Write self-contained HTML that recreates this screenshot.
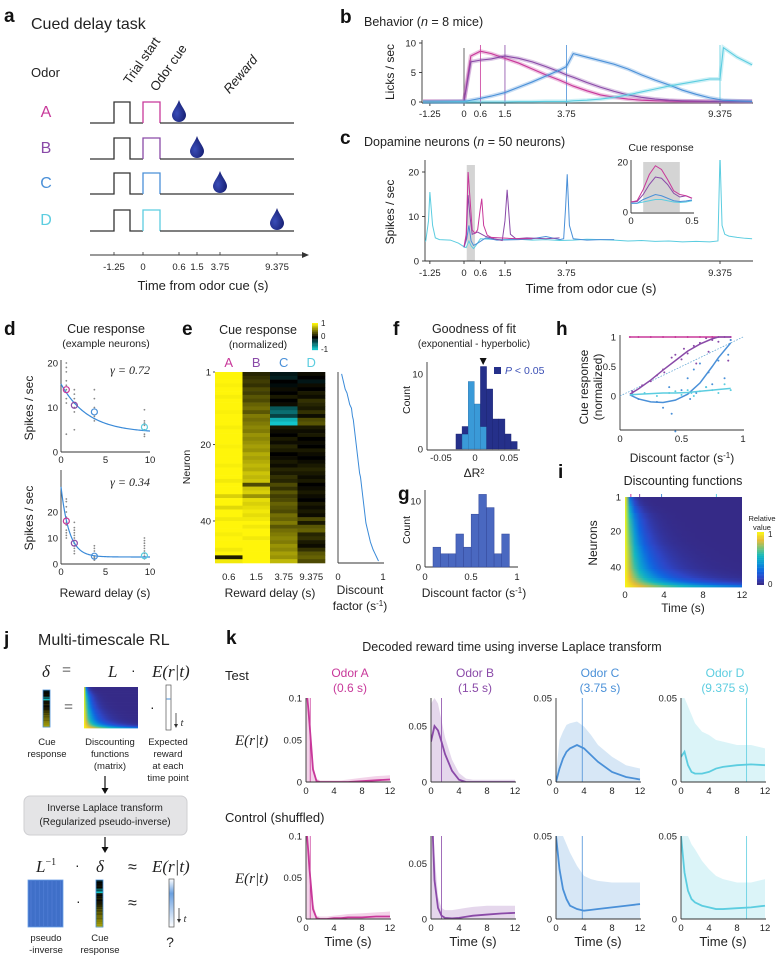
<!DOCTYPE html>
<html><head><meta charset="utf-8"><style>
html,body{margin:0;padding:0;background:#fff;}
svg{display:block;font-family:"Liberation Sans",sans-serif;}
.t{font-size:9.5px;fill:#222;}
.lab{font-size:12px;fill:#222;}
.ttl{font-size:12.5px;fill:#222;}
.pl{font-size:19px;font-weight:bold;fill:#111;}
.ax{stroke:#333;stroke-width:0.9;fill:none;}
.m{font-family:"Liberation Serif",serif;font-style:italic;fill:#222;}
</style></head><body>
<svg id="fig" width="784" height="960" viewBox="0 0 784 960" xmlns="http://www.w3.org/2000/svg">
<defs>
<radialGradient id="dropg" cx="0.35" cy="0.6" r="0.7"><stop offset="0" stop-color="#3a4db8"/><stop offset="1" stop-color="#141c6e"/></radialGradient>
<clipPath id="clipB"><rect x="422" y="40" width="331" height="64"/></clipPath>
<clipPath id="clipC"><rect x="425" y="160" width="328" height="102"/></clipPath>
</defs>

<!-- Panel a -->
<g>
<text class="pl" x="4" y="22">a</text>
<text x="31" y="29" style="font-size:16px" fill="#222">Cued delay task</text>
<text x="31" y="77" class="lab" style="font-size:13px">Odor</text>
<text x="133" y="95" class="lab" transform="rotate(-55 122 93)" style="font-size:13px">Trial start</text>
<text x="155" y="95" class="lab" transform="rotate(-55 153 92)" style="font-size:13px">Odor cue</text>
<text x="228" y="95" class="lab" transform="rotate(-50 228 93)" style="font-size:13px;font-style:italic">Reward</text>
<g id="taskRows"></g>
<line x1="90" y1="255" x2="302" y2="255" stroke="#333" stroke-width="1"/>
<polygon points="302,252 309,255 302,258" fill="#333"/>
<g id="taskTicks"></g>
<text x="203" y="290" text-anchor="middle" class="lab" style="font-size:13px">Time from odor cue (s)</text>
</g>

<!-- Panel b -->
<g>
<text class="pl" x="340" y="23">b</text>
<text x="364" y="26" class="ttl">Behavior (<tspan font-style="italic">n</tspan> = 8 mice)</text>
<text x="0" y="0" class="lab" transform="translate(394 72) rotate(-90)" text-anchor="middle">Licks / sec</text>
<g id="bPlot"></g>
</g>

<!-- Panel c -->
<g>
<text class="pl" x="340" y="144">c</text>
<text x="364" y="146" class="ttl">Dopamine neurons (<tspan font-style="italic">n</tspan> = 50 neurons)</text>
<text x="0" y="0" class="lab" transform="translate(394 212) rotate(-90)" text-anchor="middle">Spikes / sec</text>
<text x="591" y="293" text-anchor="middle" class="lab" style="font-size:13px">Time from odor cue (s)</text>
<text x="661" y="151" text-anchor="middle" class="t" style="font-size:10.5px">Cue response</text>
<g id="cPlot"></g>
</g>

<!-- Panel d -->
<g>
<text class="pl" x="4" y="335">d</text>
<text x="106" y="333" text-anchor="middle" class="ttl">Cue response</text>
<text x="106" y="347" text-anchor="middle" class="t" style="font-size:10.5px">(example neurons)</text>
<text transform="translate(33 408) rotate(-90)" text-anchor="middle" class="lab">Spikes / sec</text>
<text transform="translate(33 518) rotate(-90)" text-anchor="middle" class="lab">Spikes / sec</text>
<text x="105" y="597" text-anchor="middle" class="lab">Reward delay (s)</text>
<g id="dPlot"></g>
</g>

<!-- Panel e -->
<g>
<text class="pl" x="182" y="335">e</text>
<text x="258" y="334" text-anchor="middle" class="ttl">Cue response</text>
<text x="258" y="348" text-anchor="middle" class="t" style="font-size:10.5px">(normalized)</text>
<text transform="translate(190 467) rotate(-90)" text-anchor="middle" class="t" style="font-size:10.5px">Neuron</text>
<text x="270" y="597" text-anchor="middle" class="lab">Reward delay (s)</text>
<text x="360" y="594" text-anchor="middle" class="lab">Discount</text>
<text x="360" y="610" text-anchor="middle" class="lab">factor (s<tspan dy="-4" font-size="8">-1</tspan><tspan dy="4">)</tspan></text>
<g id="ePlot"></g>
</g>

<!-- Panel f -->
<g>
<text class="pl" x="393" y="335">f</text>
<text x="474" y="333" text-anchor="middle" class="ttl">Goodness of fit</text>
<text x="474" y="347" text-anchor="middle" class="t" style="font-size:10px">(exponential - hyperbolic)</text>
<text transform="translate(410 400) rotate(-90)" text-anchor="middle" class="t" style="font-size:10.5px">Count</text>
<text x="474" y="477" text-anchor="middle" class="lab">ΔR²</text>
<rect x="494" y="367" width="7" height="7" fill="#25308a"/>
<text x="505" y="374" class="t" style="font-size:10.5px;fill:#3b4fb5"><tspan font-style="italic">P</tspan> &lt; 0.05</text>
<g id="fPlot"></g>
</g>

<!-- Panel g -->
<g>
<text class="pl" x="398" y="500">g</text>
<text transform="translate(410 530) rotate(-90)" text-anchor="middle" class="t" style="font-size:10.5px">Count</text>
<text x="474" y="597" text-anchor="middle" class="lab">Discount factor (s<tspan dy="-4" font-size="8">-1</tspan><tspan dy="4">)</tspan></text>
<g id="gPlot"></g>
</g>

<!-- Panel h -->
<g>
<text class="pl" x="556" y="335">h</text>
<text transform="translate(588 387) rotate(-90)" text-anchor="middle" class="lab">Cue response</text>
<text transform="translate(602 387) rotate(-90)" text-anchor="middle" class="lab">(normalized)</text>
<text x="682" y="462" text-anchor="middle" class="lab">Discount factor (s<tspan dy="-4" font-size="8">-1</tspan><tspan dy="4">)</tspan></text>
<g id="hPlot"></g>
</g>

<!-- Panel i -->
<g>
<text class="pl" x="558" y="478">i</text>
<text x="683" y="485" text-anchor="middle" class="ttl">Discounting functions</text>
<text transform="translate(597 543) rotate(-90)" text-anchor="middle" class="lab">Neurons</text>
<text x="683" y="612" text-anchor="middle" class="lab">Time (s)</text>
<text x="762" y="521" text-anchor="middle" style="font-size:7.5px" fill="#222">Relative</text>
<text x="762" y="530" text-anchor="middle" style="font-size:7.5px" fill="#222">value</text>
<g id="iPlot"></g>
</g>

<!-- Panel j -->
<g>
<text class="pl" x="4" y="645">j</text>
<text x="38" y="645" style="font-size:16px" fill="#222">Multi-timescale RL</text>
<text x="42" y="677" class="m" style="font-size:17px">δ</text>
<text x="62" y="675" class="m" style="font-size:16px;font-style:normal">=</text>
<text x="108" y="677" class="m" style="font-size:17px">L</text>
<text x="131" y="675" style="font-size:14px" fill="#222">·</text>
<text x="152" y="677" class="m" style="font-size:17px">E(r|t)</text>
<g id="jPics"></g>
<text x="64" y="712" class="m" style="font-size:16px;font-style:normal">=</text>
<text x="150" y="712" style="font-size:14px" fill="#222">·</text>
<g class="t" style="font-size:9.5px" text-anchor="middle">
<text x="47" y="745">Cue</text>
<text x="47" y="757">response</text>
<text x="110" y="745">Discounting</text>
<text x="110" y="757">functions</text>
<text x="110" y="769">(matrix)</text>
<text x="168" y="745">Expected</text>
<text x="168" y="757">reward</text>
<text x="168" y="769">at each</text>
<text x="168" y="781">time point</text>
</g>
<line x1="105" y1="776" x2="105" y2="790" stroke="#111" stroke-width="1.2"/>
<polygon points="101.5,788 108.5,788 105,794" fill="#111"/>
<rect x="24" y="796" width="163" height="39" rx="6" fill="#e4e4e6" stroke="#cfcfd2"/>
<text x="105" y="811" text-anchor="middle" class="t" style="font-size:10px">Inverse Laplace transform</text>
<text x="105" y="825" text-anchor="middle" class="t" style="font-size:10px">(Regularized pseudo-inverse)</text>
<line x1="105" y1="837" x2="105" y2="849" stroke="#111" stroke-width="1.2"/>
<polygon points="101.5,847 108.5,847 105,853" fill="#111"/>
<text x="36" y="872" class="m" style="font-size:17px">L<tspan dy="-7" font-size="10" font-style="normal">−1</tspan></text>
<text x="75" y="870" style="font-size:14px" fill="#222">·</text>
<text x="96" y="872" class="m" style="font-size:17px">δ</text>
<text x="128" y="872" style="font-size:16px" fill="#222">≈</text>
<text x="152" y="872" class="m" style="font-size:17px">E(r|t)</text>
<text x="76" y="906" style="font-size:14px" fill="#222">·</text>
<text x="128" y="908" style="font-size:16px" fill="#222">≈</text>
<g class="t" style="font-size:9.5px" text-anchor="middle">
<text x="46" y="941">pseudo</text>
<text x="46" y="953">-inverse</text>
<text x="100" y="941">Cue</text>
<text x="100" y="953">response</text>
</g>
<text x="170" y="947" text-anchor="middle" style="font-size:14px" fill="#222">?</text>
</g>

<!-- Panel k -->
<g>
<text class="pl" x="226" y="644">k</text>
<text x="512" y="651" text-anchor="middle" class="ttl">Decoded reward time using inverse Laplace transform</text>
<text x="225" y="680" class="lab" style="font-size:13px">Test</text>
<text x="225" y="822" class="lab" style="font-size:13px">Control (shuffled)</text>
<text x="235" y="745" class="m" style="font-size:15px">E(r|t)</text>
<text x="235" y="883" class="m" style="font-size:15px">E(r|t)</text>
<g id="kPlot"></g>
</g>
</svg>

<script>
// ---------- data ----------
var odorNames = ["A","B","C","D"];
var rewardTimes = [0.6, 1.5, 3.75, 9.375];
var odorColors = ["#c8389a","#8a4aa8","#4a90d8","#5ccde0"];

// panel b: licks/sec
var behTimes = [-1.5,-1.25,0,0.25,0.6,1,1.5,2,2.5,3,3.5,3.75,4,4.5,5,5.5,6,6.5,7,7.5,8,8.5,9,9.375,9.5,10,10.55];
var lickA = [0.1,0.1,0.1,7.8,8.6,8.2,7.4,6.6,5.6,4.6,3.7,3.2,2.7,1.9,1.2,0.8,0.5,0.3,0.2,0.15,0.1,0.1,0.1,0.1,0.1,0.1,0.1];
var lickB = [0.1,0.1,0.1,6.8,7.1,7.3,7.8,7.4,6.8,6.0,5.1,4.6,4.2,3.3,2.5,1.8,1.2,0.8,0.5,0.3,0.2,0.15,0.1,0.1,0.1,0.1,0.1];
var lickC = [0,0,0.1,0.3,0.6,1.0,1.6,2.5,3.4,4.4,5.4,6.0,8.2,7.6,7.0,6.4,5.6,4.6,3.7,2.9,2.0,1.3,0.7,0.4,0.3,0.2,0.1];
var lickD = [0,0,0,0,0,0,0,0.05,0.05,0.1,0.1,0.1,0.2,0.3,0.5,0.8,1.2,1.7,2.2,2.7,3.1,3.5,3.9,3.9,9.2,7.6,6.3];
var lickData = [lickA, lickB, lickC, lickD];
var bTicksY = [0,5,10];
var tTickVals = [-1.25,0,0.6,1.5,3.75,9.375];
var tTickLabels = ["-1.25","0","0.6","1.5","3.75","9.375"];

// panel c: spikes/sec
var spkTimesD = [-1.6,-1.4,-1.3,-1.25,-1.15,-1.05,-0.9,-0.5,-0.2,0,0.08,0.18,0.26,0.35,0.45,0.6,1,1.5,2,2.5,3,3.5,4,4.5,5,5.5,6,6.5,7,7.5,8,8.5,9,9.3,9.375,9.45,9.55,9.7,10,10.3,10.55];
var spkValsD = [4.3,4.5,9,15.5,8,5.2,4.8,4.7,4.0,3.2,3.0,4.5,3.4,2.8,3.6,5.0,4.9,4.8,4.9,4.7,4.8,4.6,4.7,4.9,4.8,4.7,4.5,4.6,4.4,4.5,4.3,4.4,4.3,4.5,24,8,6,5.6,5.3,5.1,5.0];
var spkTimesA = [0,0.08,0.15,0.22,0.3,0.4,0.5,0.58,0.65,0.72,0.85,1,1.3,1.6,2,2.5];
var spkValsA = [3.2,6,20,14,7,6.2,7,11,14,8,5.8,5.3,5.2,5.1,5,5];
var spkTimesB = [0,0.08,0.15,0.22,0.3,0.5,0.8,1.1,1.4,1.5,1.58,1.7,1.9,2.3,3,3.5];
var spkValsB = [3.2,5,14.8,10,6,6.5,5.5,5,4.6,9,16,6,5,5.2,5,5.2];
var spkTimesC = [0,0.1,0.18,0.26,0.35,0.5,0.8,1.2,2,2.5,3,3.5,3.65,3.72,3.78,3.86,4,4.5,5,5.5];
var spkValsC = [3,5,8,4.5,3.5,4,5.2,4.7,4.8,5,5.5,4.8,5,12,19.5,8,5,4.7,4.8,4.8];
var cTicksY = [0,10,20];
// inset
var insetTimes = [0,0.05,0.1,0.15,0.2,0.25,0.3,0.35,0.4,0.45,0.5];
var insetA = [4,4.5,9,15,18.5,17,13,8.5,7,6.5,5.5];
var insetB = [4,4.2,7,11,14,13.5,11,7.5,6,6.5,5.5];
var insetC = [3.5,3.5,5,6,7,6.5,5.5,4.5,4.2,4.4,4.8];
var insetD = [3.5,3.5,4,4.5,5,5,4.5,4,3.8,4,4.5];

// panel d
var dDelays = [0.6,1.5,3.75,9.375];
var dTopMeans = [14,10.5,9,5.6];
var dBotMeans = [16.5,8,3,3.2];
var dTopDots = [[20,19,18,16,15,14,12,11,4],[14,13,12,11,10,9,5],[14,12,10,8,7.5,7],[9.5,7,6.5,6,5,4,3.5]];
var dBotDots = [[25,24,22,20,18,16,15,13,12,11,10],[16,14,13,12,11,10,9,8,7,6,5,4],[7,6,5,3,2.5,2,1.5],[10,9,8,7,6,5,4,3,2]];
var dGammas = [0.72,0.34];
var dFitAmp = [11,27];
var dFitOffset = [4.3,2.7];

// panel e
var heatA = [1,1,1,0.98,1,1,0.97,1,1,1,0.98,1,1,1,0.97,1,1,1,1,0.98,1,1,1,1,0.97,1,1,1,0.95,1,1,1,0.85,1,1,0.88,1,1,0.95,1,1,1,0.97,1,1,1,0.95,1,0.12,0.95];
var heatB = [0.15,0.2,0.25,0.2,0.3,0.25,0.35,0.3,0.4,0.45,0.35,0.5,0.45,0.5,0.55,0.5,0.6,0.55,0.6,0.65,0.6,0.7,0.65,0.7,0.75,0.7,0.8,0.75,0.8,0.3,0.8,0.85,0.6,0.9,0.85,0.9,0.95,0.9,0.95,1,0.95,1,1,0.95,1,1,1,1,1,1];
var heatC = [-0.1,-0.15,0,-0.05,0.05,0,0.1,0,0.05,-0.4,-0.5,-0.3,-0.8,-0.9,0.1,0.05,0,0.1,0.05,0.15,0.1,0,0.05,0.1,0.05,0.15,0.1,0.2,0.15,0.3,0.2,0.35,0.25,0.3,0.4,0.35,0.3,0.45,0.4,0.5,0.35,0.45,0.5,0.55,0.5,0.6,0.55,0.65,0.6,0.75];
var heatD = [0.05,0,-0.1,0.05,0,0.1,0.05,0.2,0.15,0.1,0.2,0.05,0.3,0.35,0.1,0.05,0.1,0,0.05,0,0.1,0.05,0,0.05,0.1,0.15,0.1,0.05,0.1,0,0.05,0.1,0.05,0,0.1,0.05,0.1,0.05,0.3,0.1,0.35,0.4,0.15,0.2,0.1,0.05,0.2,0.35,0.4,0.3];
var heatCols = [heatA, heatB, heatC, heatD];
var discountFactors = [0.08,0.1,0.12,0.14,0.16,0.2,0.22,0.24,0.26,0.3,0.31,0.32,0.34,0.35,0.36,0.37,0.38,0.39,0.4,0.41,0.42,0.43,0.44,0.45,0.46,0.47,0.48,0.5,0.51,0.52,0.53,0.54,0.55,0.56,0.57,0.58,0.59,0.6,0.61,0.62,0.64,0.66,0.68,0.7,0.72,0.75,0.78,0.82,0.86,0.9];
var eDelayLabels = ["0.6","1.5","3.75","9.375"];

// panel f
var fBinStart = -0.028;
var fBinWidth = 0.009;
var fSigCounts = [2,1,0,0,8,8,4,4,2,1];
var fNonSigCounts = [0,2,9,6,3,0,0,0,0,0];
var fMedian = 0.012;

// panel g
var gBinStart = 0.087;
var gBinWidth = 0.083;
var gCounts = [3,2,2,5,3,8,11,9,2,5];

// panel h
var hFitX = [0.08,0.15,0.25,0.35,0.45,0.55,0.65,0.75,0.8,0.9];
var hFitA = [1,1,1,1,1,1,1,1,1,1];
var hFitB = [0.03,0.12,0.27,0.44,0.6,0.76,0.88,0.97,1,1];
var hFitC = [0.02,-0.05,-0.1,-0.11,-0.07,0.03,0.22,0.5,0.65,0.9];
var hFitD = [0.02,0.03,0.04,0.05,0.05,0.06,0.08,0.1,0.11,0.13];
var hPtsBx = [0.1,0.18,0.25,0.3,0.35,0.36,0.42,0.45,0.5,0.52,0.55,0.6,0.62,0.65,0.7,0.72,0.75,0.8,0.85,0.88,0.9];
var hPtsBy = [0.08,0.18,0.25,0.35,0.45,0.4,0.65,0.7,0.62,0.8,0.72,0.85,0.55,0.9,0.98,0.75,0.95,0.92,1,0.6,0.95];
var hPtsCx = [0.1,0.15,0.3,0.35,0.4,0.42,0.45,0.5,0.55,0.57,0.6,0.62,0.65,0.7,0.72,0.75,0.8,0.85,0.88,0.9];
var hPtsCy = [0.05,-0.05,-0.1,-0.2,0.15,-0.3,-0.6,0.1,0.3,-0.05,0.45,0.05,0.55,0.15,0.4,0.2,0.6,0.3,0.7,0.95];
var hPtsDx = [0.1,0.2,0.3,0.4,0.45,0.5,0.55,0.58,0.6,0.65,0.7,0.75,0.8,0.85,0.9];
var hPtsDy = [0.02,0.05,0.0,0.05,0.08,0.02,0.1,0.05,0.0,0.08,0.15,0.1,0.05,0.2,0.1];

// panel k (mean decoded curves)
var kTimes = [0,0.5,1,1.5,2,3,4,5,6,8,10,12];
var kTestA = [0.12,0.07,0.015,0.001,0,0,0,0,0,0.001,0.002,0.003];
var kTestB = [0.036,0.05,0.046,0.036,0.025,0.01,0.002,0,0,0,0,0];
var kTestC = [0,0.008,0.014,0.018,0.02,0.022,0.02,0.016,0.012,0.006,0.003,0.0015];
var kTestD = [0.015,0.018,0.01,0.006,0.005,0.005,0.006,0.008,0.009,0.01,0.0105,0.01];
var kCtrlA = [0.12,0.06,0.012,0.001,0,0,0.001,0.001,0.002,0.002,0.003,0.003];
var kCtrlB = [0.12,0.035,0.01,0.003,0.001,0.0005,0.001,0.002,0.003,0.004,0.005,0.0055];
var kCtrlC = [0.05,0.03,0.018,0.012,0.008,0.006,0.005,0.0055,0.006,0.007,0.008,0.009];
var kCtrlD = [0.05,0.028,0.017,0.012,0.01,0.008,0.007,0.006,0.006,0.0065,0.007,0.008];
var kTestHi = [[0.12,0.08,0.02,0.004,0.002,0.002,0.002,0.002,0.003,0.005,0.007,0.008],[0.07,0.075,0.07,0.055,0.04,0.02,0.008,0.003,0.002,0.002,0.002,0.002],[0.005,0.025,0.03,0.034,0.035,0.036,0.033,0.028,0.022,0.015,0.01,0.008],[0.05,0.05,0.045,0.04,0.035,0.03,0.028,0.025,0.024,0.022,0.022,0.02]];
var kCtrlHi = [[0.12,0.07,0.02,0.004,0.003,0.003,0.004,0.005,0.006,0.007,0.008,0.009],[0.12,0.06,0.02,0.01,0.008,0.008,0.009,0.01,0.011,0.012,0.012,0.012],[0.05,0.05,0.05,0.045,0.04,0.032,0.026,0.024,0.023,0.022,0.022,0.022],[0.05,0.05,0.05,0.045,0.042,0.035,0.03,0.026,0.024,0.022,0.022,0.024]];
var kYMax = [0.1,0.075,0.05,0.05];
var kYTickVals = [[0,0.05,0.1],[0,0.05],[0,0.05],[0,0.05]];
var kYTickLabels = [["0","0.05","0.1"],["0","0.05"],["0","0.05"],["0","0.05"]];
var kXTicks = [0,4,8,12];

// ---------- helpers ----------
var NS = "http://www.w3.org/2000/svg";
function mk(tag, attrs, parent){ var e=document.createElementNS(NS,tag); for(var k in attrs) e.setAttribute(k,attrs[k]); if(parent) parent.appendChild(e); return e; }
function txt(parent, x, y, s, anchor, cls, extra){ var e=mk("text",{x:x,y:y,"text-anchor":anchor||"middle","class":cls||"t"},parent); if(extra) e.setAttribute("style",extra); e.textContent=s; return e; }
function lin(d0,d1,r0,r1){ return function(v){ return r0+(v-d0)*(r1-r0)/(d1-d0); }; }
function pathD(xs, ys, fx, fy){ var d=""; for(var i=0;i<xs.length;i++){ d+=(i?"L":"M")+fx(xs[i]).toFixed(2)+","+fy(ys[i]).toFixed(2); } return d; }
function hex(c){ return "#"+c.map(function(v){var h=Math.round(Math.max(0,Math.min(255,v))).toString(16);return h.length<2?"0"+h:h;}).join(""); }
function interpColor(stops, v){ v=Math.max(0,Math.min(1,v)); for(var i=1;i<stops.length;i++){ if(v<=stops[i][0]){ var a=stops[i-1], b=stops[i], f=(v-a[0])/(b[0]-a[0]); return hex([0,1,2].map(function(k){return a[1][k]+(b[1][k]-a[1][k])*f;})); } } return hex(stops[stops.length-1][1]); }
var parula = [[0,[53,42,135]],[0.12,[45,70,200]],[0.25,[15,100,225]],[0.4,[10,150,215]],[0.55,[20,185,190]],[0.7,[120,195,120]],[0.85,[230,185,55]],[1,[249,245,20]]];
function yelcyan(v){ if(v>=0) return hex([255*v, 245*v, 10*v]); var a=-v; return hex([20*a, 220*a, 225*a]); }

// ---------- panel a ----------
(function(){
  var g=document.getElementById("taskRows");
  var xT = function(t){ var map={"-1.25":114,"0":143,"0.6":179,"1.5":197,"3.75":220,"9.375":277}; return map[String(t)]; };
  var baseY=[123,159,194,231];
  for(var i=0;i<4;i++){
    var row=mk("g",{},g);
    
    
    var lab=txt(row,46,baseY[i]-6,odorNames[i],"middle","lab","font-size:16px;fill:"+odorColors[i]);
    
    
    var y=baseY[i], top=y-21;
    var d="M90,"+y+"L114,"+y+"L114,"+top+"L130,"+top+"L130,"+y+"L143,"+y;
    var p1=mk("path",{d:d,stroke:"#333","stroke-width":1.3,fill:"none"},row);
    
    
    var p2=mk("path",{d:"M143,"+y+"L143,"+top+"L160,"+top+"L160,"+y,stroke:odorColors[i],"stroke-width":1.3,fill:"none"},row);
    
    
    mk("line",{x1:160,y1:y,x2:294,y2:y,stroke:"#333","stroke-width":1.3},row);
    var cx=xT(rewardTimes[i]), cy=y-12;
    var dp=mk("path",{d:"M"+cx+","+(cy-11)+"C"+(cx+2)+","+(cy-5)+" "+(cx+7)+","+cy+" "+(cx+7)+","+(cy+4)+"A7,7 0 0 1 "+(cx-7)+","+(cy+4)+"C"+(cx-7)+","+cy+" "+(cx-2)+","+(cy-5)+" "+cx+","+(cy-11)+"Z",fill:"url(#dropg)"},row);
    
    
  }
  var tg=document.getElementById("taskTicks");
  for(var j=0;j<tTickVals.length;j++){
    var x=xT(tTickVals[j]);
    mk("line",{x1:x,y1:252,x2:x,y2:255,stroke:"#333","stroke-width":0.8},tg);
    var tl=txt(tg,x,270,tTickLabels[j],"middle","t");
    
    
  }
})();

// ---------- panel b ----------
var xTime = lin(0,9.375,464,720);
(function(){
  var g=document.getElementById("bPlot"), yB=lin(0,10,102,43);
  mk("line",{x1:422,y1:40,x2:422,y2:103,"class":"ax"},g);
  mk("line",{x1:422,y1:103,x2:753,y2:103,"class":"ax"},g);
  bTicksY.forEach(function(v){ mk("line",{x1:419,y1:yB(v),x2:422,y2:yB(v),"class":"ax"},g); var t=txt(g,416,yB(v)+3.5,String(v),"end");   });
  tTickVals.forEach(function(v,i){ mk("line",{x1:xTime(v),y1:103,x2:xTime(v),y2:106,"class":"ax"},g); var t=txt(g,xTime(v),117,tTickLabels[i]);   });
  mk("line",{x1:xTime(0),y1:48,x2:xTime(0),y2:103,stroke:"#444","stroke-width":0.8},g);
  rewardTimes.forEach(function(r,i){ var l=mk("line",{x1:xTime(r),y1:45,x2:xTime(r),y2:103,stroke:odorColors[i],"stroke-width":0.8},g);   });
  var cg=mk("g",{"clip-path":"url(#clipB)"},g);
  lickData.forEach(function(arr,i){
    var d=pathD(behTimes,arr,xTime,yB);
    mk("path",{d:d,stroke:odorColors[i],"stroke-width":4,"stroke-opacity":0.3,fill:"none"},cg);
    var p=mk("path",{d:d,stroke:odorColors[i],"stroke-width":1.1,fill:"none"},cg);
    
    
  });
})();

// ---------- panel c ----------
(function(){
  var g=document.getElementById("cPlot"), yC=lin(0,20,261,172);
  mk("rect",{x:xTime(0.1),y:165,width:xTime(0.4)-xTime(0.1),height:96,fill:"#d4d4d4"},g);
  mk("line",{x1:425,y1:160,x2:425,y2:261,"class":"ax"},g);
  mk("line",{x1:425,y1:261,x2:753,y2:261,"class":"ax"},g);
  cTicksY.forEach(function(v){ mk("line",{x1:422,y1:yC(v),x2:425,y2:yC(v),"class":"ax"},g); var t=txt(g,419,yC(v)+3.5,String(v),"end");   });
  tTickVals.forEach(function(v,i){ mk("line",{x1:xTime(v),y1:261,x2:xTime(v),y2:264,"class":"ax"},g); var t=txt(g,xTime(v),276,tTickLabels[i]);   });
  var cg=mk("g",{"clip-path":"url(#clipC)"},g);
  var series=[[spkTimesD,spkValsD,3],[spkTimesC,spkValsC,2],[spkTimesB,spkValsB,1],[spkTimesA,spkValsA,0]];
  series.forEach(function(s){
    var p=mk("path",{d:pathD(s[0],s[1],xTime,yC),stroke:odorColors[s[2]],"stroke-width":1,fill:"none"},cg);
    
    
  });
  // inset
  var xi=lin(0,0.5,631,692), yi=lin(0,20,212,162);
  mk("rect",{x:xi(0.1),y:162,width:xi(0.4)-xi(0.1),height:50,fill:"#d4d4d4"},g);
  mk("line",{x1:631,y1:160,x2:631,y2:213,"class":"ax"},g);
  mk("line",{x1:631,y1:213,x2:694,y2:213,"class":"ax"},g);
  [0,20].forEach(function(v){ var t=txt(g,628,yi(v)+3.5,String(v),"end");   });
  [0,0.5].forEach(function(v){ var t=txt(g,xi(v),224,String(v));   });
  [insetD,insetC,insetB,insetA].forEach(function(arr,k){
    var idx=3-k;
    var p=mk("path",{d:pathD(insetTimes,arr,xi,yi),stroke:odorColors[idx],"stroke-width":1,fill:"none"},g);
    
    
  });
})();

// ---------- panel d ----------
(function(){
  var g=document.getElementById("dPlot");
  var xd=lin(0,10,61,150);
  var cfgs=[{y0:452,y20:363,top:360,means:dTopMeans,dots:dTopDots,gl:"γ = 0.72",gy:374},{y0:564,y20:512,top:470,means:dBotMeans,dots:dBotDots,gl:"γ = 0.34",gy:486}];
  cfgs.forEach(function(c,k){
    var yd=lin(0,20,c.y0,c.y20);
    mk("line",{x1:61,y1:c.top,x2:61,y2:c.y0,"class":"ax"},g);
    mk("line",{x1:61,y1:c.y0,x2:150,y2:c.y0,"class":"ax"},g);
    [0,10,20].forEach(function(v){ if(yd(v)<c.top-2) return; var t=txt(g,58,yd(v)+3.5,String(v),"end");   });
    [0,5,10].forEach(function(v){ var t=txt(g,xd(v),c.y0+11,String(v));   });
    var gt=txt(g,150,c.gy,c.gl,"end","m","font-size:12px");  
    c.dots.forEach(function(list,i){ list.forEach(function(v){ var dd=mk("circle",{cx:xd(dDelays[i]),cy:yd(v),r:0.9,fill:"#888"},g);   }); });
    var ts=[],vs=[]; for(var t=0;t<=10;t+=0.1){ ts.push(t); vs.push(dFitOffset[k]+dFitAmp[k]*Math.pow(dGammas[k],t)); }
    var fp=mk("path",{d:pathD(ts,vs,xd,yd),stroke:"#3a8ad8","stroke-width":1.2,fill:"none"},g);
    
    
    c.means.forEach(function(v,i){ var cc=mk("circle",{cx:xd(dDelays[i]),cy:yd(v),r:3,fill:"none",stroke:odorColors[i],"stroke-width":1.2},g);   });
  });
})();

// ---------- panel e ----------
(function(){
  var g=document.getElementById("ePlot");
  var x0=215,cw=27.5,y0=372,rh=191/50;
  heatCols.forEach(function(col,j){
    var lb=txt(g,x0+cw*(j+0.5),367,odorNames[j],"middle","lab","font-size:13px;fill:"+odorColors[j]);
     
    col.forEach(function(v,i){
      var r=mk("rect",{x:x0+cw*j,y:y0+rh*i,width:cw+0.3,height:rh+0.3,fill:yelcyan(v)},g);
      
      
    });
    var xl=txt(g,x0+cw*(j+0.5),580,eDelayLabels[j]);  
  });
  [[1,0],[20,19],[40,39]].forEach(function(p){ var t=txt(g,211,y0+rh*p[1]+3.5,String(p[0]),"end");   mk("line",{x1:213,y1:y0+rh*p[1],x2:215,y2:y0+rh*p[1],"class":"ax"},g); });
  // colorbar
  for(var k=0;k<20;k++){ var v=1-k/10; mk("rect",{x:312,y:323+k*1.35,width:6,height:1.5,fill:yelcyan(v)},g); }
  [["1",326],["0",339],["-1",352]].forEach(function(p){ var t=txt(g,321,p[1],p[0],"start","t","font-size:8px");   });
  // discount factor plot
  var xdf=lin(0,1,338,383);
  mk("line",{x1:338,y1:372,x2:338,y2:563,"class":"ax"},g);
  mk("line",{x1:338,y1:563,x2:384,y2:563,"class":"ax"},g);
  var ids=discountFactors.map(function(_,i){return i;});
  var dp=mk("path",{d:pathD(discountFactors,ids,xdf,function(i){return y0+rh*(i+0.5);}),stroke:"#3a8ad8","stroke-width":1,fill:"none"},g);
  
  
  [0,1].forEach(function(v){ var t=txt(g,xdf(v),580,String(v));   });
})();

// ---------- panel f ----------
(function(){
  var g=document.getElementById("fPlot");
  var xf=lin(0,0.05,475,509), yf=lin(0,10,449,374);
  mk("line",{x1:427,y1:362,x2:427,y2:450,"class":"ax"},g);
  mk("line",{x1:427,y1:450,x2:520,y2:450,"class":"ax"},g);
  [0,10].forEach(function(v){ var t=txt(g,423,yf(v)+3.5,String(v),"end");   });
  [[-0.05,"-0.05"],[0,"0"],[0.05,"0.05"]].forEach(function(p){ var t=txt(g,xf(p[0]),461,p[1]);   });
  fSigCounts.forEach(function(s,i){
    var ns=fNonSigCounts[i], xa=xf(fBinStart+i*fBinWidth), xb=xf(fBinStart+(i+1)*fBinWidth);
    if(ns>0){ var r=mk("rect",{x:xa,y:yf(ns),width:xb-xa,height:yf(0)-yf(ns),fill:"#3a9ad8",stroke:"#2a6fa8","stroke-width":0.4},g);   }
    if(s>0){ var r2=mk("rect",{x:xa,y:yf(ns+s),width:xb-xa,height:yf(ns)-yf(ns+s),fill:"#25308a",stroke:"#1a2270","stroke-width":0.4},g);   }
  });
  var mx=xf(fMedian);
  var tri=mk("polygon",{points:(mx-3.5)+",358 "+(mx+3.5)+",358 "+mx+",365",fill:"#111"},g);
   
})();

// ---------- panel g ----------
(function(){
  var g=document.getElementById("gPlot");
  var xg=lin(0,1,425,517), yg=lin(0,10,567,501);
  mk("line",{x1:425,y1:490,x2:425,y2:567,"class":"ax"},g);
  mk("line",{x1:425,y1:567,x2:518,y2:567,"class":"ax"},g);
  [0,10].forEach(function(v){ var t=txt(g,421,yg(v)+3.5,String(v),"end");   });
  [[0,"0"],[0.5,"0.5"],[1,"1"]].forEach(function(p){ var t=txt(g,xg(p[0]),580,p[1]);   });
  gCounts.forEach(function(c,i){
    var xa=xg(gBinStart+i*gBinWidth), xb=xg(gBinStart+(i+1)*gBinWidth);
    var r=mk("rect",{x:xa,y:yg(c),width:xb-xa,height:yg(0)-yg(c),fill:"#4a68c0",stroke:"#33489a","stroke-width":0.5},g);
     
  });
})();

// ---------- panel h ----------
(function(){
  var g=document.getElementById("hPlot");
  var xh=lin(0,1,620,743), yh=lin(0,1,396,337);
  mk("line",{x1:620,y1:335,x2:620,y2:430,"class":"ax"},g);
  mk("line",{x1:620,y1:430,x2:744,y2:430,"class":"ax"},g);
  [[0,"0"],[0.5,"0.5"],[1,"1"]].forEach(function(p){ var t=txt(g,616,yh(p[0])+3.5,p[1],"end");   });
  [[0,"0"],[0.5,"0.5"],[1,"1"]].forEach(function(p){ var t=txt(g,xh(p[0]),442,p[1]);   });
  [1,2,3].forEach(function(i){ mk("line",{x1:xh(0),y1:yh(0),x2:xh(1),y2:yh(1),stroke:odorColors[i],"stroke-width":0.6,"stroke-dasharray":"1.5,1.5","stroke-opacity":0.7},g); });
  var pts=[[hPtsBx,hPtsBy,1],[hPtsCx,hPtsCy,2],[hPtsDx,hPtsDy,3]];
  pts.forEach(function(s){ s[0].forEach(function(x,i){ var c=mk("circle",{cx:xh(x),cy:yh(s[1][i]),r:1,fill:odorColors[s[2]]},g);   }); });
  hFitX.forEach(function(x){ var c=mk("circle",{cx:xh(x),cy:yh(1),r:1,fill:odorColors[0]},g);   });
  [hFitA,hFitB,hFitC,hFitD].forEach(function(arr,i){
    var p=mk("path",{d:pathD(hFitX,arr,xh,yh),stroke:odorColors[i],"stroke-width":1.5,fill:"none"},g);
     
  });
})();

// ---------- panel i ----------
(function(){
  var g=document.getElementById("iPlot");
  var x0=625,x1=742,y0=497,y1=587,n=discountFactors.length,rh=(y1-y0)/n;
  var defs=document.querySelector("defs");
  discountFactors.forEach(function(gm,i){
    var gr=mk("linearGradient",{id:"ig"+i,x1:0,y1:0,x2:1,y2:0},defs);
    for(var k=0;k<=24;k++){ var t=12*k/24; mk("stop",{offset:k/24,"stop-color":interpColor(parula,Math.pow(gm,t))},gr); }
    var r=mk("rect",{x:x0,y:y0+rh*i,width:x1-x0,height:rh+0.4,fill:"url(#ig"+i+")"},g);
     
  });
  var xi=lin(0,12,x0,x1);
  rewardTimes.forEach(function(r,i){ mk("line",{x1:xi(r),y1:y0-3,x2:xi(r),y2:y0,stroke:odorColors[i],"stroke-width":1},g); });
  [[1,0],[20,19],[40,39]].forEach(function(p){ var t=txt(g,621,y0+rh*p[1]+3.5,String(p[0]),"end");   });
  [0,4,8,12].forEach(function(v){ var t=txt(g,xi(v),598,String(v));   });
  for(var k=0;k<40;k++){ mk("rect",{x:757,y:532+k*1.32,width:7,height:1.5,fill:interpColor(parula,1-k/39)},g); }
  txt(g,768,537,"1","start","t","font-size:8px");
  txt(g,768,587,"0","start","t","font-size:8px");
  // panel j pictures
  var jg=document.getElementById("jPics");
  function cueBar(x,y,h){ var rh2=h/n; heatC.forEach(function(v,i){ mk("rect",{x:x,y:y+rh2*i,width:7,height:rh2+0.3,fill:yelcyan(v)},jg); }); mk("rect",{x:x,y:y,width:7,height:h,fill:"none",stroke:"#4a90d8","stroke-width":0.8},jg); }
  cueBar(43,690,37);
  var mat=mk("g",{},jg);  
  discountFactors.forEach(function(gm,i){ mk("rect",{x:84,y:687+0.82*i,width:54,height:1.2,fill:"url(#ig"+i+")"},mat); });
  var col=mk("rect",{x:166,y:685,width:5,height:45,fill:"#fff",stroke:"#555","stroke-width":0.7},jg);
   
  mk("line",{x1:166.5,y1:699,x2:170.5,y2:699,stroke:"#4a90d8","stroke-width":1},jg);
  mk("line",{x1:176,y1:713,x2:176,y2:726,stroke:"#333","stroke-width":0.8},jg);
  mk("polygon",{points:"174,724 178,724 176,728",fill:"#333"},jg);
  txt(jg,182,726,"t","middle","m","font-size:10px");
  var pinv=mk("rect",{x:28,y:880,width:35,height:47,fill:"#3f6fc8",stroke:"#6aa0e8","stroke-width":0.8},jg);
   
  for(var q=0;q<8;q++){ mk("line",{x1:31+q*4.2,y1:881,x2:31+q*4.2,y2:926,stroke:"#5582d8","stroke-width":1,"stroke-opacity":0.6},jg); }
  cueBar(96,880,47);
  var gr2=mk("linearGradient",{id:"colg",x1:0,y1:0,x2:0,y2:1},defs);
  mk("stop",{offset:0,"stop-color":"#fff"},gr2); mk("stop",{offset:0.3,"stop-color":"#6aa0e0"},gr2); mk("stop",{offset:1,"stop-color":"#fff"},gr2);
  var c2=mk("rect",{x:169,y:879,width:5,height:48,fill:"url(#colg)",stroke:"#555","stroke-width":0.7},jg);
   
  mk("line",{x1:179,y1:908,x2:179,y2:921,stroke:"#333","stroke-width":0.8},jg);
  mk("polygon",{points:"177,919 181,919 179,923",fill:"#333"},jg);
  txt(jg,185,922,"t","middle","m","font-size:10px");
})();

// ---------- panel k ----------
(function(){
  var g=document.getElementById("kPlot"), defs=document.querySelector("defs");
  var xs0=[306,431,556,681];
  var rowsY=[{y0:782,top:698,means:[kTestA,kTestB,kTestC,kTestD],hi:kTestHi,name:"test"},{y0:919,top:836,means:[kCtrlA,kCtrlB,kCtrlC,kCtrlD],hi:kCtrlHi,name:"control"}];
  var oTitle=["Odor A","Odor B","Odor C","Odor D"], oSub=["(0.6 s)","(1.5 s)","(3.75 s)","(9.375 s)"];
  for(var i=0;i<4;i++){
    var t1=txt(g,xs0[i]+44,677,oTitle[i],"middle","lab","fill:"+odorColors[i]);  
    var t2=txt(g,xs0[i]+44,692,oSub[i],"middle","lab","fill:"+odorColors[i]);  
  }
  rowsY.forEach(function(R,ri){
    for(var i=0;i<4;i++){
      var x0=xs0[i], xk=lin(0,12,x0,x0+84), yk=lin(0,kYMax[i],R.y0,R.top);
      var cid="kc"+ri+"_"+i;
      var cp=mk("clipPath",{id:cid},defs); mk("rect",{x:x0,y:R.top,width:85,height:R.y0-R.top},cp);
      var sub=mk("g",{},g);
      
      
      var cg=mk("g",{"clip-path":"url(#"+cid+")"},sub);
      var hi=R.hi[i];
      var d=pathD(kTimes,hi,xk,yk)+"L"+xk(12)+","+yk(0)+"L"+xk(0)+","+yk(0)+"Z";
      var band=mk("path",{d:d,fill:odorColors[i],"fill-opacity":0.22,stroke:"none"},cg);
       
      mk("line",{x1:xk(rewardTimes[i]),y1:R.top,x2:xk(rewardTimes[i]),y2:R.y0,stroke:odorColors[i],"stroke-width":0.8},sub);
      var ml=mk("path",{d:pathD(kTimes,R.means[i],xk,yk),stroke:odorColors[i],"stroke-width":1.8,fill:"none"},cg);
       
      mk("line",{x1:x0,y1:R.top,x2:x0,y2:R.y0,"class":"ax"},sub);
      mk("line",{x1:x0,y1:R.y0,x2:x0+85,y2:R.y0,"class":"ax"},sub);
      kYTickVals[i].forEach(function(v,j){ var t=txt(sub,x0-4,yk(v)+3.5,kYTickLabels[i][j],"end");   });
      kXTicks.forEach(function(v){ var t=txt(sub,xk(v),R.y0+12,String(v));   });
      if(ri===1){ var tl=txt(sub,x0+42,946,"Time (s)","middle","lab","font-size:13px");   }
    }
  });
})();
</script>
</body></html>
